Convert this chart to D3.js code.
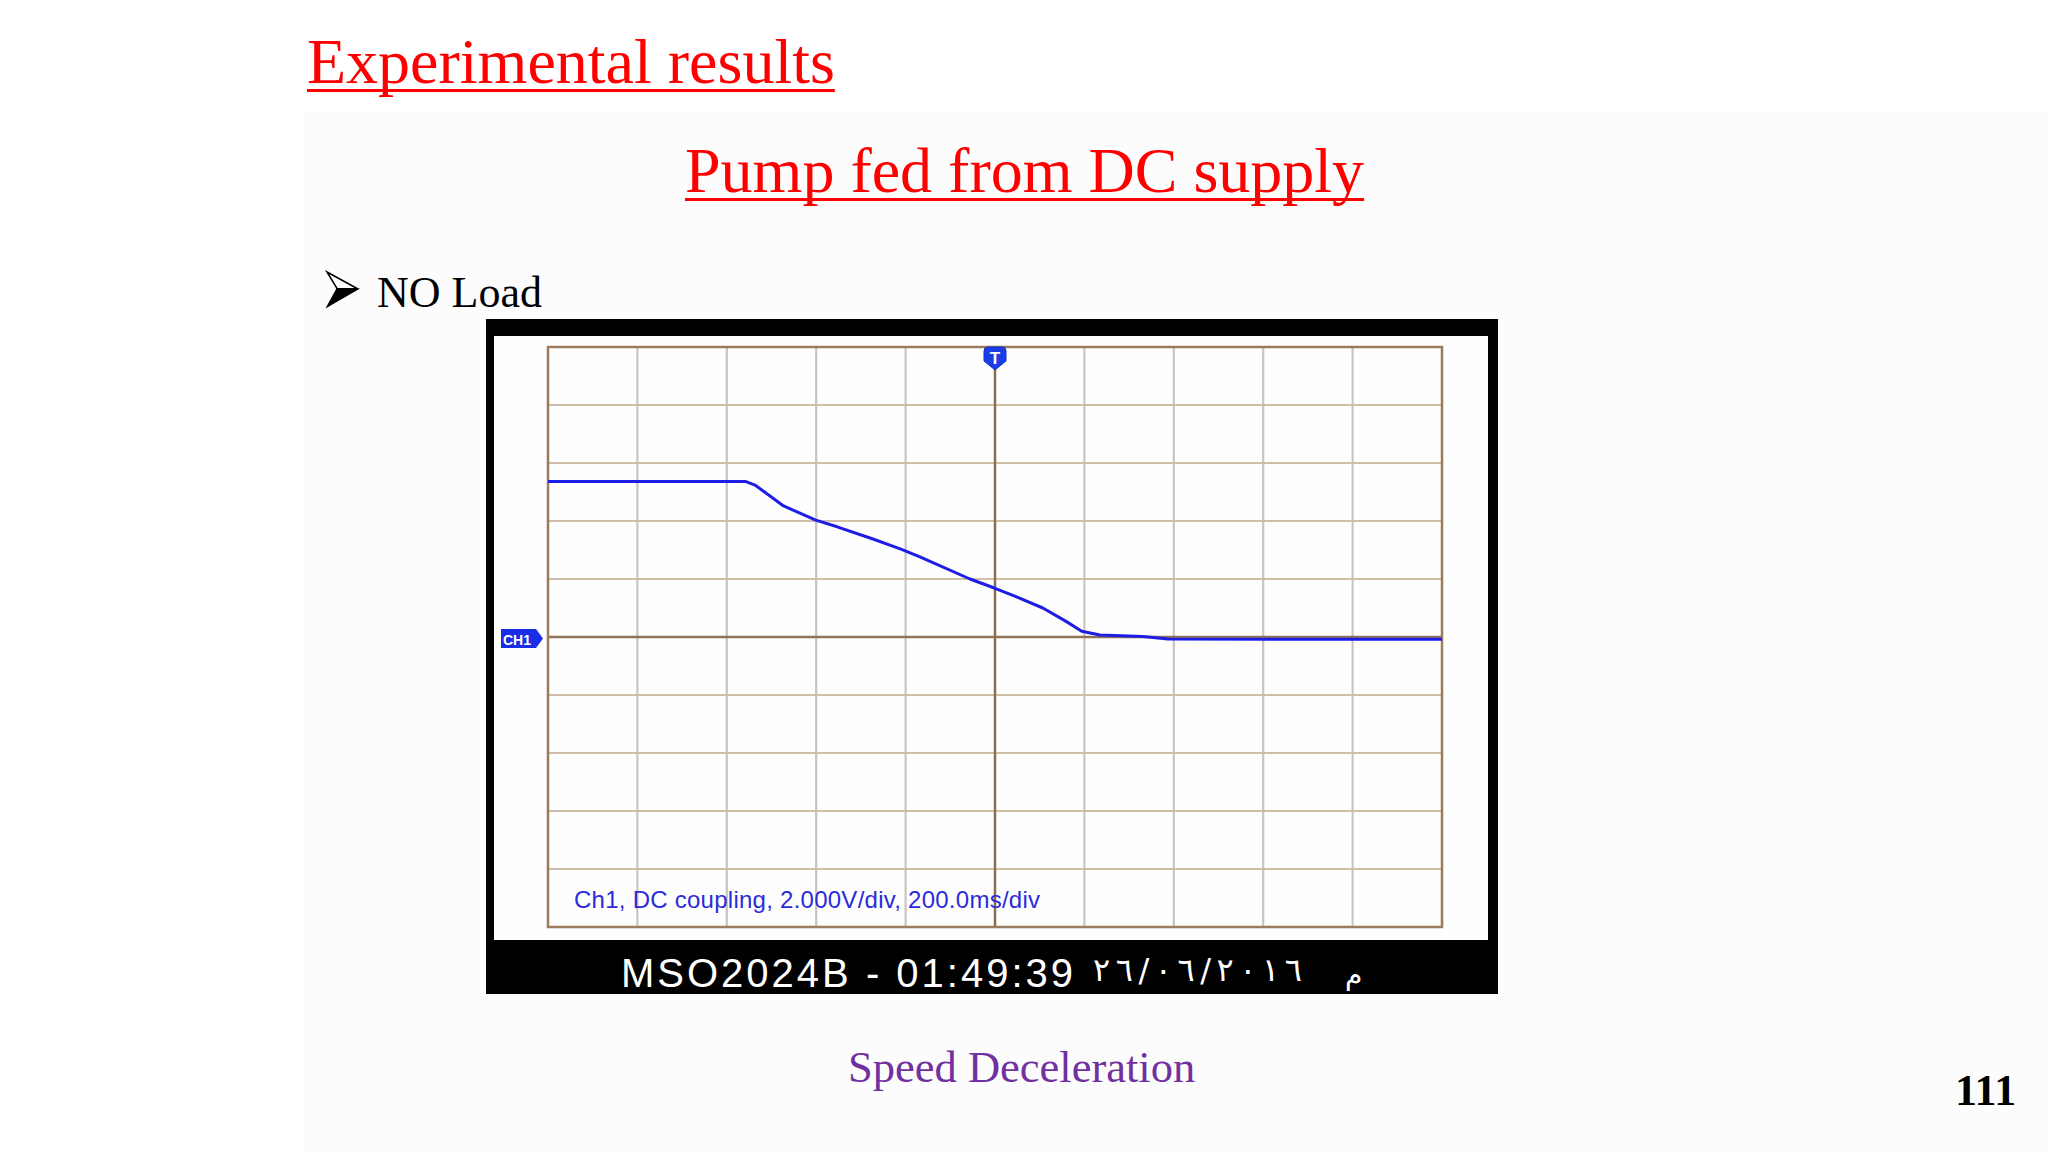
<!DOCTYPE html>
<html><head><meta charset="utf-8">
<script src="https://cdn.jsdelivr.net/npm/d3@7"></script>
<style>body{margin:0;background:#fff}svg{display:block}</style>
</head><body>
<script>
// ---- data ----
const timeMs = [-1000,-557,-537,-473,-401,-353,-273,-209,-168,-56,0,47,107,160,194,235,331,387,1000];
const volts  = [5.36,5.36,5.24,4.52,4.03,3.80,3.38,3.02,2.76,2.00,1.68,1.39,1.00,0.53,0.20,0.07,0.02,-0.07,-0.08];
const timeTicks = [-1000,-800,-600,-400,-200,0,200,400,600,800,1000];
const voltTicks = [-10,-8,-6,-4,-2,0,2,4,6,8,10];
const titleText = "Experimental results";
const subtitleText = "Pump fed from DC supply";
const bulletText = "NO Load";
const captionText = "Speed Deceleration";
const pageNum = "111";
const scopeInfo = "Ch1, DC coupling, 2.000V/div, 200.0ms/div";
const scopeModel = "MSO2024B - 01:49:39";
const scopeDate = "٢٦/٠٦/٢٠١٦";
const scopeSuffix = "م";

const W = 2048, H = 1152;
const svg = d3.select("body").append("svg").attr("width", W).attr("height", H);

svg.append("rect").attr("width", W).attr("height", H).attr("fill", "#ffffff");
svg.append("rect").attr("x", 304).attr("y", 111).attr("width", W-304).attr("height", H-111).attr("fill", "#fcfcfc");

const serif = "'Liberation Serif','Times New Roman',serif";
const sans = "'Liberation Sans',Arial,sans-serif";

// Titles
function underlined(text, x, y, size, color) {
  const t = svg.append("text").attr("x", x).attr("y", y)
    .attr("font-family", serif).attr("font-size", size).attr("fill", color).text(text);
  const w = t.node().getComputedTextLength();
  svg.append("rect").attr("x", x).attr("y", y + 6).attr("width", w).attr("height", 3).attr("fill", color);
}
underlined(titleText, 307, 83, 64, "#ff0000");
underlined(subtitleText, 685, 192, 64, "#ff0000");

// Bullet arrow
svg.append("path").attr("d", "M327,272 L358,289 L337,288.5 Z").attr("fill", "#fff").attr("stroke", "#000").attr("stroke-width", 1.5).attr("stroke-linejoin", "miter");
svg.append("path").attr("d", "M337,288.5 L358,289 L327,307 Z").attr("fill", "#000").attr("stroke", "#000").attr("stroke-width", 1.2);
svg.append("text").attr("x", 377).attr("y", 307).attr("font-family", serif).attr("font-size", 44).attr("fill", "#000").text(bulletText);

// Scope frame
svg.append("rect").attr("x", 486).attr("y", 319).attr("width", 1012).attr("height", 675).attr("fill", "#000");
svg.append("rect").attr("x", 494).attr("y", 336).attr("width", 994).attr("height", 604).attr("fill", "#fefefe");

const x = d3.scaleLinear().domain([-1000, 1000]).range([548, 1442]);
const y = d3.scaleLinear().domain([-10, 10]).range([927, 347]);

const g = svg.append("g");
// grid lines
g.selectAll("line.v").data(timeTicks.filter(t => t !== 0 && Math.abs(t) !== 1000)).join("line")
  .attr("x1", d => x(d)).attr("x2", d => x(d)).attr("y1", y(10)).attr("y2", y(-10))
  .attr("stroke", "#cbc4bc").attr("stroke-width", 2.2);
g.selectAll("line.h").data(voltTicks.filter(v => v !== 0 && Math.abs(v) !== 10)).join("line")
  .attr("x1", x(-1000)).attr("x2", x(1000)).attr("y1", d => y(d)).attr("y2", d => y(d))
  .attr("stroke", "#d0bea8").attr("stroke-width", 2.2);
// center lines
g.append("line").attr("x1", x(0)).attr("x2", x(0)).attr("y1", y(10)).attr("y2", y(-10))
  .attr("stroke", "#8c6c4e").attr("stroke-width", 2.5);
g.append("line").attr("x1", x(-1000)).attr("x2", x(1000)).attr("y1", y(0)).attr("y2", y(0))
  .attr("stroke", "#8f7358").attr("stroke-width", 2.5);
// border
g.append("rect").attr("x", x(-1000)).attr("y", y(10)).attr("width", x(1000)-x(-1000)).attr("height", y(-10)-y(10))
  .attr("fill", "none").attr("stroke", "#9c7c5e").attr("stroke-width", 2.5);

// trace
const pts = timeMs.map((t, i) => [t, volts[i]]);
g.append("path").datum(pts)
  .attr("d", d3.line().x(d => x(d[0])).y(d => y(d[1])))
  .attr("fill", "none").attr("stroke", "#1d1de6").attr("stroke-width", 3).attr("stroke-linejoin", "round");

// Trigger marker
const tx = x(0), ty = y(10);
g.append("path")
  .attr("d", `M${tx-11},${ty+4} Q${tx-11},${ty} ${tx-7},${ty} L${tx+7},${ty} Q${tx+11},${ty} ${tx+11},${ty+4} L${tx+11},${ty+14} L${tx},${ty+23} L${tx-11},${ty+14} Z`)
  .attr("fill", "#1a3de8").attr("stroke", "#1430c0").attr("stroke-width", 1);
g.append("text").attr("x", tx).attr("y", ty+17).attr("text-anchor", "middle")
  .attr("font-family", sans).attr("font-weight", "bold").attr("font-size", 17).attr("fill", "#fff").text("T");

// CH1 marker
const cy = y(0);
g.append("path")
  .attr("d", `M501,${cy-8} L536,${cy-8} L543,${cy+1.5} L536,${cy+11} L501,${cy+11} Z`)
  .attr("fill", "#1a2ee8");
g.append("text").attr("x", 503).attr("y", cy+7.5).attr("font-family", sans).attr("font-weight", "bold")
  .attr("font-size", 14).attr("fill", "#fff").text("CH1");

// info text
g.append("text").attr("x", 574).attr("y", 908).attr("font-family", sans).attr("font-size", 24)
  .attr("textLength", 466).attr("lengthAdjust", "spacing")
  .attr("fill", "#2b2bdc").text(scopeInfo);

// bottom band text
svg.append("text").attr("x", 621).attr("y", 987).attr("font-family", sans).attr("font-size", 40)
  .attr("textLength", 452).attr("lengthAdjust", "spacing").attr("fill", "#fff").text(scopeModel);
svg.append("text").attr("x", 1093).attr("y", 981).attr("font-family", "'DejaVu Sans',sans-serif").attr("font-size", 32)
  .attr("textLength", 209).attr("lengthAdjust", "spacing").attr("direction", "ltr").attr("fill", "#fff").text(scopeDate);
svg.append("text").attr("x", 1345).attr("y", 984).attr("font-family", "'DejaVu Sans',sans-serif").attr("font-size", 28)
  .attr("fill", "#fff").text(scopeSuffix);

// caption and page number
svg.append("text").attr("x", 848).attr("y", 1082).attr("font-family", serif).attr("font-size", 44.5)
  .attr("fill", "#7030a0").text(captionText);
svg.append("text").attr("x", 1955).attr("y", 1105).attr("font-family", serif).attr("font-size", 44)
  .attr("font-weight", "bold").attr("fill", "#000").text(pageNum);
</script>
</body></html>
